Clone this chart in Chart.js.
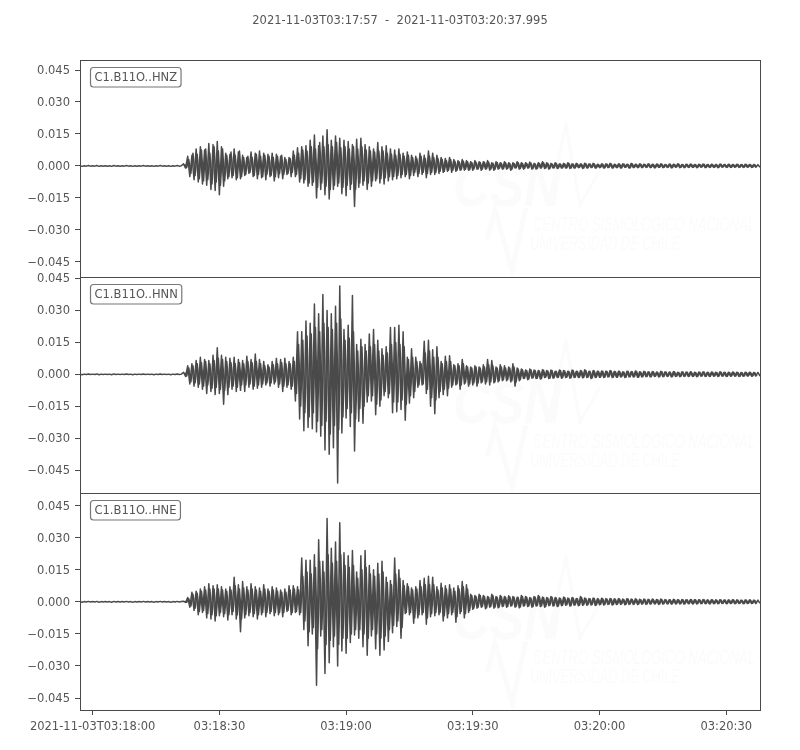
<!DOCTYPE html>
<html>
<head>
<meta charset="utf-8">
<title>C1.B11O</title>
<script src="https://cdn.jsdelivr.net/npm/chart.js@4/dist/chart.umd.min.js"></script>
<style>
  body { margin: 0; background: #fff; }
  #wrap { position: relative; width: 800px; height: 750px; }
  canvas { position: absolute; left: 0; top: 0; }
</style>
</head>
<body>
<div id="wrap">
  <canvas id="panelZ" width="800" height="750"></canvas>
  <canvas id="panelN" width="800" height="750"></canvas>
  <canvas id="panelE" width="800" height="750"></canvas>
</div>
<script>
const titleText = '2021-11-03T03:17:57  -  2021-11-03T03:20:37.995';
const channels = ['C1.B11O..HNZ', 'C1.B11O..HNN', 'C1.B11O..HNE'];
const yTicks = [-0.045, -0.030, -0.015, 0, 0.015, 0.030, 0.045];
const xTickSeconds = [3, 33, 63, 93, 123, 153];
const xTickLabels = ['2021-11-03T03:18:00', '03:18:30', '03:19:00', '03:19:30', '03:20:00', '03:20:30'];
const logoLines = ['CENTRO SISMOLÓGICO NACIONAL', 'UNIVERSIDAD DE CHILE'];

// seconds between samples, amplitudes below are in thousandths
const sampleStep = 0.5;
const traceEnd = 160.995;
const innerStart = 24.75;

// before the P arrival, same for the three channels
const quiet = [
  0.1,-0.2,0.1,-0.1,0.2,-0.1,0.1,-0.1,0.2,-0.2,0.1,-0.1,0.1,-0.1,0.1,-0.2,0.2,-0.1,0.1,-0.1,
  0.1,-0.1,0.2,-0.1,0.1,-0.2,0.1,-0.1,0.1,-0.1,0.2,-0.1,0.1,-0.1,0.1,-0.2,0.1,-0.1,0.2,-0.1,
  0.1,-0.1,0.1,-0.2,0.1,-0.1,0.2,-0.1,0.1
];

// outer swings
const traceZ = [
  1,-1, 4.5,-5, 5,-6.5, 8,-7.5, 9,-8.5, 7.5,-9, 10.5,-11, 10,-11.5, 11.5,-13.5, 9,-9.5,
  6,-6, 5.5,-5.5, 8,-6.5, 6.5,-6, 5,-4.5, 4,-3.5, 6.5,-5, 6,-6, 7,-5.5, 6,-6.5,
  5.5,-5, 6,-7, 5.5,-5.5, 4.5,-6, 4,-4, 4,-5, 7,-5, 8.5,-7.5, 9,-8, 9.5,-9.5,
  12,-9, 14.5,-15, 9.5,-11, 14,-13.5, 17,-15.5, 12,-11, 14,-9.5, 13,-13, 12,-14, 11.5,-11,
  10,-19, 12.5,-10, 13,-9, 10,-11, 9,-9.5, 8,-7, 11,-8, 9,-8.5, 9.5,-7, 8,-6.5,
  7.5,-6, 8,-5.5, 6,-5, 6.5,-6, 5,-4.5, 4.5,-5, 6,-4, 5,-5.5, 7,-4, 6,-4,
  5,-3.5, 4,-3, 3.5,-2.5, 4,-3, 3,-2.5, 2.5,-2, 3,-2, 2.5,-2, 2,-2, 2.5,-1.5,
  2,-2, 2,-1.5, 2.5,-2, 1.5,-2, 2,-1.5, 1.5,-1.5, 2,-1.5, 1.5,-2, 1.5,-1, 2,-1.5,
  1.5,-1.5, 1.5,-1, 1.8,-1.5, 1.2,-1.5, 1.5,-1, 2,-1.2, 1.5,-1.5, 1.2,-1, 1.5,-1.2, 1,-1,
  1.2,-1, 1.5,-1.2, 1,-1, 1.2,-0.8, 1,-1.2, 1.3,-1, 1,-0.8, 1.2,-1, 0.8,-0.8, 1,-1,
  1,-0.8, 1.2,-1, 0.8,-0.8, 1,-1, 1,-0.7, 0.8,-1, 1.2,-0.8, 0.8,-0.8, 1,-0.8, 0.8,-0.7,
  1,-0.8, 0.8,-0.9, 0.9,-0.7, 1,-0.8, 0.7,-0.7, 0.9,-0.9, 0.8,-0.6, 1,-0.8, 0.7,-0.8, 0.8,-0.7,
  0.9,-0.7, 0.7,-0.8, 0.8,-0.6, 0.9,-0.8, 0.7,-0.7, 0.8,-0.7, 0.7,-0.8, 0.9,-0.6, 0.7,-0.7, 0.8,-0.7,
  0.7,-0.6, 0.8,-0.7, 0.7,-0.7, 0.8,-0.6, 0.7,-0.7, 0.7,-0.6, 0.6,-0.6
];
// swings in between the outer ones, they fill the body of the trace
const innerZ = [
  0.8,-0.8, 3,-3.5, 6,-4.5, 5.5,-6, 7.5,-7, 8,-6.5, 6,-8.5, 9,-7.5, 7,-9, 8,-7,
  5,-5, 6.5,-4.5, 5,-5.5, 7,-5, 4,-4, 4.5,-3, 4,-4.5, 5.5,-4, 4.5,-5, 5,-4,
  4.5,-4.5, 4,-5, 4.5,-3.5, 5,-4, 3,-3.5, 3.5,-3, 5,-4, 6,-6, 7.5,-6.5, 7,-8,
  9,-7.5, 8,-10, 11,-8, 9,-9.5, 10,-11, 9,-9, 11,-8, 8.5,-10, 9,-9, 8,-8.5,
  9,-11, 8,-8, 9,-7, 7.5,-8, 7,-7, 6.5,-6, 7,-6, 7,-5.5, 6,-5, 5.5,-5,
  5,-4.5, 5.5,-4, 4.5,-4, 5,-4.5, 4,-3, 3.5,-3.5, 4.5,-3, 3.5,-3.5, 4.5,-3, 4,-3,
  3.5,-2.5, 3,-2.5, 2.5,-2, 3,-2, 2.2,-2, 2,-1.8, 2.2,-1.6, 2,-1.8, 1.6,-1.5, 1.8,-1.4,
  1.6,-1.5, 1.7,-1.3, 1.8,-1.5, 1.3,-1.6, 1.6,-1.2, 1.3,-1.3, 1.5,-1.2, 1.2,-1.5, 1.2,-0.9, 1.5,-1.2,
  1.2,-1.2, 1.2,-0.9, 1.4,-1.2, 1,-1.2, 1.2,-0.9, 1.5,-1, 1.2,-1.2, 1,-0.9, 1.2,-1, 0.9,-0.9,
  1,-0.9, 1.2,-1, 0.9,-0.9, 1,-0.7, 0.9,-1, 1.1,-0.9, 0.9,-0.7, 1,-0.9, 0.7,-0.7, 0.9,-0.9,
  0.9,-0.7, 1,-0.9, 0.7,-0.7, 0.9,-0.9, 0.9,-0.6, 0.7,-0.9, 1,-0.7, 0.7,-0.7, 0.9,-0.7, 0.7,-0.6,
  0.9,-0.7, 0.7,-0.8, 0.8,-0.6, 0.9,-0.7, 0.6,-0.6, 0.8,-0.8, 0.7,-0.5, 0.9,-0.7, 0.6,-0.7, 0.7,-0.6,
  0.8,-0.6, 0.6,-0.7, 0.7,-0.5, 0.8,-0.7, 0.6,-0.6, 0.7,-0.6, 0.6,-0.7, 0.8,-0.5, 0.6,-0.6, 0.7,-0.6,
  0.6,-0.5, 0.7,-0.6, 0.6,-0.6, 0.7,-0.5, 0.6,-0.6, 0.6,-0.5
];

const traceN = [
  1,-1, 4,-4.5, 5,-5.5, 6.5,-6, 8,-7, 7,-9, 6.5,-8, 9,-9.5, 12.5,-9, 9,-14,
  8,-9.5, 7.5,-7, 8,-8, 7,-7.5, 6.5,-8, 8.5,-6, 7,-7, 9.5,-6.5, 7,-6, 6,-5,
  4.5,-5.5, 6,-4.5, 7.5,-6, 7,-8, 7.5,-6, 6,-7, 8,-12.5, 20,-21, 20,-26.5, 25,-25,
  24,-25.5, 33,-27, 28.5,-29, 37.5,-35.5, 30,-37.5, 28.5,-34.5, 32,-51, 41.5,-27.5, 21,-20.5, 23,-24.5,
  37,-36, 14,-22, 16.5,-23, 14,-13, 19,-12.5, 21,-19, 16,-15, 12,-10, 13,-11, 22,-18,
  22,-17.5, 23,-16.5, 20,-21.5, 8,-13.5, 12,-11, 8,-6, 6,-5, 15.5,-9, 16,-15, 11.5,-18.5,
  13,-11, 6,-9.5, 8.5,-10, 8.7,-6, 4.5,-5, 5,-7, 7,-4.5, 4,-5.5, 3.5,-5, 4,-5.5,
  3.5,-4, 4.5,-4.5, 7,-5, 6.5,-4, 3.5,-3.5, 4.5,-3, 4,-3, 3.5,-3.5, 5,-5.5, 3,-3,
  2.5,-2, 2,-2.5, 2.5,-1.8, 2,-2, 1.8,-2.2, 2.2,-1.5, 1.8,-2, 2,-1.8, 1.5,-1.5, 2,-1.8,
  1.8,-1.5, 1.5,-1.8, 2,-1.5, 1.5,-1.5, 1.8,-1.6, 2.2,-1.5, 1.5,-2, 1.8,-1.5, 1.5,-1.4, 1.6,-1.5,
  1.5,-1.2, 1.8,-1.5, 1.4,-1.4, 1.5,-1.2, 1.2,-1.5, 1.5,-1.2, 1.3,-1.2, 1.6,-1.4, 1.2,-1.2, 1.4,-1.1,
  1.2,-1.2, 1.3,-1, 1.1,-1.2, 1.4,-1.1, 1.2,-1, 1.1,-1.2, 1.3,-1, 1,-1.1, 1.2,-1, 1.1,-1,
  1.2,-1, 1,-1.1, 1.1,-0.9, 1.2,-1, 1,-1, 1.1,-0.9, 1,-1, 1.2,-0.9, 1,-1, 1,-0.9,
  1.1,-0.9, 1,-1, 0.9,-0.9, 1,-0.8, 1,-0.9, 0.9,-0.8, 0.9,-0.8
];
const innerN = [
  0.8,-0.8, 3,-3.5, 4,-4, 5,-4.5, 5.5,-5.5, 6,-5, 5,-6.5, 6.5,-6, 7.5,-7, 7,-7.5,
  6,-6, 5.5,-5.5, 5,-6, 5.5,-5, 5,-5, 6,-4.5, 5.5,-5.5, 6,-5, 5,-4.5, 4,-4,
  3.5,-4, 4.5,-3.5, 5,-4.5, 5.5,-5.5, 5,-5, 5,-5.5, 6,-9, 14,-15, 16,-18, 18,-20,
  19,-18, 22,-22, 20,-24, 24,-22, 22,-28, 21,-24, 24,-26, 26,-20, 16,-16, 17,-18,
  20,-21, 11,-16, 13,-15, 11,-10, 13,-10, 14,-14, 11,-12, 9,-8, 10,-9, 14,-13,
  15,-13, 14,-12, 13,-14, 7,-10, 8,-8, 6,-5, 5,-4.5, 10,-7, 11,-11, 8,-12,
  8,-8, 5,-7, 6,-6.5, 6,-5, 4,-4.5, 4,-5, 5,-4, 3.5,-4.5, 3,-4, 3.5,-4,
  3,-3.5, 3.5,-3.5, 4.5,-3.5, 4,-3.5, 3,-3, 3.5,-2.5, 3,-2.5, 3,-3, 3.5,-3.5, 2.5,-2.5,
  2.2,-1.8, 1.8,-2.2, 2.2,-1.6, 1.8,-1.8, 1.6,-2, 1.9,-1.4, 1.6,-1.8, 1.8,-1.6, 1.4,-1.4, 1.8,-1.6,
  1.6,-1.4, 1.4,-1.6, 1.8,-1.4, 1.4,-1.4, 1.6,-1.5, 1.8,-1.4, 1.4,-1.7, 1.6,-1.4, 1.4,-1.3, 1.5,-1.4,
  1.4,-1.1, 1.6,-1.4, 1.3,-1.3, 1.4,-1.1, 1.1,-1.4, 1.4,-1.1, 1.2,-1.1, 1.4,-1.3, 1.1,-1.1, 1.3,-1,
  1.1,-1.1, 1.2,-0.9, 1,-1.1, 1.3,-1, 1.1,-0.9, 1,-1.1, 1.2,-0.9, 0.9,-1, 1.1,-0.9, 1,-0.9,
  1.1,-0.9, 0.9,-1, 1,-0.8, 1.1,-0.9, 0.9,-0.9, 1,-0.8, 0.9,-0.9, 1.1,-0.8, 0.9,-0.9, 0.9,-0.8,
  1,-0.8, 0.9,-0.9, 0.8,-0.8, 0.9,-0.7, 0.9,-0.8, 0.8,-0.7
];

const traceE = [
  0.3,-0.3, 2,-2.5, 4.5,-4, 5,-6, 6,-5, 7,-7.5, 8.5,-8, 7.5,-9, 8,-6.5, 7,-7,
  6,-8.5, 7,-6, 11.5,-8, 8,-14, 9.5,-7.5, 7,-6.5, 8.5,-7, 7,-8, 6.5,-6, 8,-7,
  6,-5.5, 7,-6.5, 6.5,-6, 5.5,-7, 6,-4.5, 7.5,-6, 7.5,-5, 7,-6, 20.5,-13, 19.5,-20.5,
  19.5,-15, 22,-39, 29,-16, 19,-33.5, 39,-28.5, 25,-21, 28,-30, 37,-23, 23,-24, 21.5,-19,
  24,-15.5, 14,-17, 21.5,-21, 24,-25, 17,-16, 15,-22, 18,-25, 19,-22.5, 11.5,-18.5, 10,-14.5,
  20.5,-11.5, 15,-17, 10,-5.5, 8.5,-6, 6.5,-10, 7,-7.5, 10,-6, 11,-10.5, 12,-7, 11.5,-6.5,
  7,-6, 8.7,-9, 7.5,-7.5, 8,-6, 6.5,-9.5, 7.5,-5.5, 9.5,-7.5, 8,-5, 3.5,-3.5, 3,-3,
  3.5,-2.5, 3,-3.2, 2.5,-2.5, 3.5,-3, 2.5,-2.8, 3,-2.2, 2.5,-2.5, 2.8,-2, 2.5,-2.5, 2.2,-2.8,
  3,-2, 2.5,-2.2, 2,-2.5, 2.5,-2, 3,-2.2, 2.2,-2.5, 2,-1.8, 2.5,-2, 2,-2.2, 1.8,-1.8,
  2.2,-1.6, 1.8,-2, 2,-1.6, 1.6,-1.8, 2.5,-1.6, 1.8,-1.6, 1.6,-1.5, 1.8,-1.7, 1.5,-1.4, 1.7,-1.5,
  1.5,-1.3, 1.6,-1.5, 1.4,-1.3, 1.5,-1.2, 1.3,-1.4, 1.5,-1.2, 1.3,-1.2, 1.4,-1.3, 1.2,-1.1, 1.3,-1.2,
  1.2,-1.1, 1.3,-1, 1.1,-1.2, 1.3,-1.1, 1.1,-1, 1,-1.1, 1.2,-1, 1,-1, 1.1,-1.1, 1,-0.9,
  1.1,-1, 1,-1, 1,-0.9, 1.1,-0.9, 0.9,-1, 1,-0.9, 0.9,-0.9, 1,-0.8, 0.9,-0.9, 0.9,-0.8,
  1,-0.9, 0.9,-0.8, 0.8,-0.9, 0.9,-0.8, 0.9,-0.8, 0.8,-0.8, 0.8,-0.7
];
const innerE = [
  0.2,-0.2, 1.5,-2, 3.5,-3, 4,-4.5, 5,-4, 5.5,-5.5, 6,-6, 6,-6.5, 6,-5, 5.5,-5.5,
  5,-6, 5.5,-4.5, 7.5,-6, 6,-8, 6.5,-6, 5.5,-5, 6,-5.5, 5.5,-6, 5,-5, 6,-5,
  5,-4.5, 5.5,-5, 5,-5, 4.5,-5, 4.5,-4, 5.5,-5, 6,-4.5, 5.5,-5, 12,-9, 14,-14,
  13,-12, 16,-22, 19,-13, 14,-20, 22,-18, 18,-16, 19,-20, 22,-17, 17,-17, 16,-15,
  17,-13, 11,-13, 15,-15, 16,-17, 13,-13, 12,-15, 13,-17, 14,-16, 9,-13, 8,-11,
  13,-9, 11,-12, 7.5,-5, 7,-5, 5.5,-7.5, 6,-6, 7,-5, 8,-7.5, 8,-5.5, 8,-5,
  5.5,-5, 6.5,-6.5, 6,-5.5, 6,-5, 5,-7, 6,-4.5, 7,-5.5, 6,-4, 3,-3, 2.5,-2.5,
  3,-2.2, 2.5,-2.8, 2.2,-2.2, 3,-2.5, 2.2,-2.4, 2.5,-2, 2.2,-2.2, 2.4,-1.8, 2.2,-2.2, 2,-2.4,
  2.5,-1.8, 2.2,-2, 1.8,-2.2, 2.2,-1.8, 2.5,-2, 2,-2.2, 1.8,-1.6, 2.2,-1.8, 1.8,-2, 1.6,-1.6,
  2,-1.4, 1.6,-1.8, 1.8,-1.4, 1.4,-1.6, 2,-1.4, 1.6,-1.4, 1.4,-1.3, 1.6,-1.5, 1.3,-1.2, 1.5,-1.3,
  1.3,-1.1, 1.4,-1.3, 1.2,-1.1, 1.3,-1, 1.1,-1.2, 1.3,-1, 1.1,-1, 1.2,-1.1, 1,-0.9, 1.1,-1,
  1,-0.9, 1.1,-0.9, 1,-1, 1.1,-0.9, 0.9,-0.9, 0.9,-0.9, 1,-0.9, 0.9,-0.9, 1,-0.9, 0.9,-0.8,
  1,-0.9, 0.9,-0.9, 0.9,-0.8, 1,-0.8, 0.8,-0.9, 0.9,-0.8, 0.8,-0.8, 0.9,-0.7, 0.8,-0.8, 0.8,-0.7,
  0.9,-0.8, 0.8,-0.7, 0.7,-0.8, 0.8,-0.7, 0.8,-0.7, 0.7,-0.7
];

const inkColor = '#4a4a4a';
const textColor = '#555555';
const fontFamily = '"DejaVu Sans", sans-serif';
const fontSize = 11.5;

function toPoints(trace) {
  return quiet.concat(trace).map((v, i) => ({ x: i * sampleStep, y: v / 1000 }));
}
function toInner(values) {
  return values.map((v, i) => ({ x: innerStart + i * sampleStep, y: v / 1000 }));
}

// frame, channel box, faint logo
const panelDecor = {
  id: 'panelDecor',
  beforeDatasetsDraw(chart, args, opts) {
    const ctx = chart.ctx;
    const a = chart.chartArea;
    const dy = a.top - 60;
    ctx.save();
    ctx.beginPath();
    ctx.rect(a.left, a.top, a.width, a.height);
    ctx.clip();
    ctx.fillStyle = '#fbfbfb';
    ctx.strokeStyle = '#fbfbfb';
    ctx.font = 'italic bold 62px "Liberation Sans", sans-serif';
    ctx.textBaseline = 'alphabetic';
    ctx.fillText('CSN', 453, 206 + dy, 108);
    ctx.lineWidth = 3;
    ctx.beginPath();
    ctx.moveTo(548, 205 + dy); ctx.lineTo(566, 125 + dy); ctx.lineTo(580, 205 + dy); ctx.lineTo(600, 170 + dy);
    ctx.stroke();
    ctx.lineWidth = 5;
    ctx.beginPath();
    ctx.moveTo(487, 240 + dy); ctx.lineTo(495, 210 + dy); ctx.lineTo(512, 270 + dy); ctx.lineTo(526, 208 + dy);
    ctx.stroke();
    ctx.font = 'italic 20px "Liberation Sans", sans-serif';
    ctx.fillText(logoLines[0], 533, 231 + dy, 222);
    ctx.fillText(logoLines[1], 530, 250 + dy, 150);
    ctx.restore();
  },
  afterDatasetsDraw(chart, args, opts) {
    const ctx = chart.ctx;
    const a = chart.chartArea;
    ctx.save();
    ctx.strokeStyle = inkColor;
    ctx.lineWidth = 1;
    ctx.strokeRect(a.left + 0.5, a.top + 0.5, a.width, a.height);
    // channel label
    ctx.font = fontSize + 'px ' + fontFamily;
    const w = ctx.measureText(opts.label).width + 8;
    ctx.beginPath();
    ctx.roundRect(a.left + 10.5, a.top + 7.5, w, 19.5, 3);
    ctx.fillStyle = '#fff';
    ctx.fill();
    ctx.strokeStyle = '#777';
    ctx.lineWidth = 1.2;
    ctx.stroke();
    ctx.fillStyle = textColor;
    ctx.textAlign = 'left';
    ctx.textBaseline = 'middle';
    ctx.fillText(opts.label, a.left + 14.5, a.top + 18.5);
    if (opts.title) {
      ctx.textAlign = 'center';
      ctx.fillText(opts.title, 400, 21.5);
    }
    ctx.restore();
  }
};

function makePanel(id, trace, inner, label, yMin, yMax, top, bottom, showX, title) {
  return new Chart(document.getElementById(id), {
    type: 'line',
    data: {
      datasets: [
        {
          label: label,
          data: toPoints(trace),
          borderColor: inkColor,
          borderWidth: 1.5,
          borderJoinStyle: 'round',
          pointRadius: 0,
          tension: 0,
          fill: false
        },
        {
          label: label + ' inner',
          data: toInner(inner),
          borderColor: inkColor,
          borderWidth: 1.5,
          borderJoinStyle: 'round',
          pointRadius: 0,
          tension: 0,
          fill: false
        }
      ]
    },
    plugins: [panelDecor],
    options: {
      responsive: false,
      animation: false,
      parsing: false,
      normalized: true,
      layout: { padding: { left: 0, right: 40, top: top, bottom: showX ? 0 : 750 - bottom } },
      plugins: {
        legend: { display: false },
        tooltip: { enabled: false },
        title: { display: false },
        panelDecor: { label: label, title: title }
      },
      scales: {
        x: {
          type: 'linear',
          display: showX,
          min: 0,
          max: traceEnd,
          afterBuildTicks: s => { s.ticks = xTickSeconds.map(v => ({ value: v })); },
          afterFit: s => { s.height = showX ? 750 - bottom : 0; },
          grid: { drawOnChartArea: false, tickLength: 5, tickColor: inkColor, tickWidth: 1 },
          border: { display: false },
          ticks: {
            autoSkip: false,
            maxRotation: 0,
            minRotation: 0,
            padding: 5,
            color: textColor,
            font: { family: fontFamily, size: fontSize },
            callback: v => xTickLabels[xTickSeconds.indexOf(v)]
          }
        },
        y: {
          min: yMin,
          max: yMax,
          afterBuildTicks: s => { s.ticks = yTicks.map(v => ({ value: v })); },
          afterFit: s => { s.width = 80; },
          grid: { drawOnChartArea: false, tickLength: 5, tickColor: inkColor, tickWidth: 1 },
          border: { display: false },
          ticks: {
            autoSkip: false,
            padding: 5,
            labelOffset: 1,
            color: textColor,
            font: { family: fontFamily, size: fontSize },
            callback: v => v.toFixed(3).replace('-', '\u2212')
          }
        }
      }
    }
  });
}

makePanel('panelZ', traceZ, innerZ, channels[0], -0.0521, 0.0497, 60, 277, false, titleText);
makePanel('panelN', traceN, innerN, channels[1], -0.0557, 0.0457, 277, 493, false);
makePanel('panelE', traceE, innerE, channels[2], -0.0506, 0.0509, 493, 710, true);
</script>
</body>
</html>
